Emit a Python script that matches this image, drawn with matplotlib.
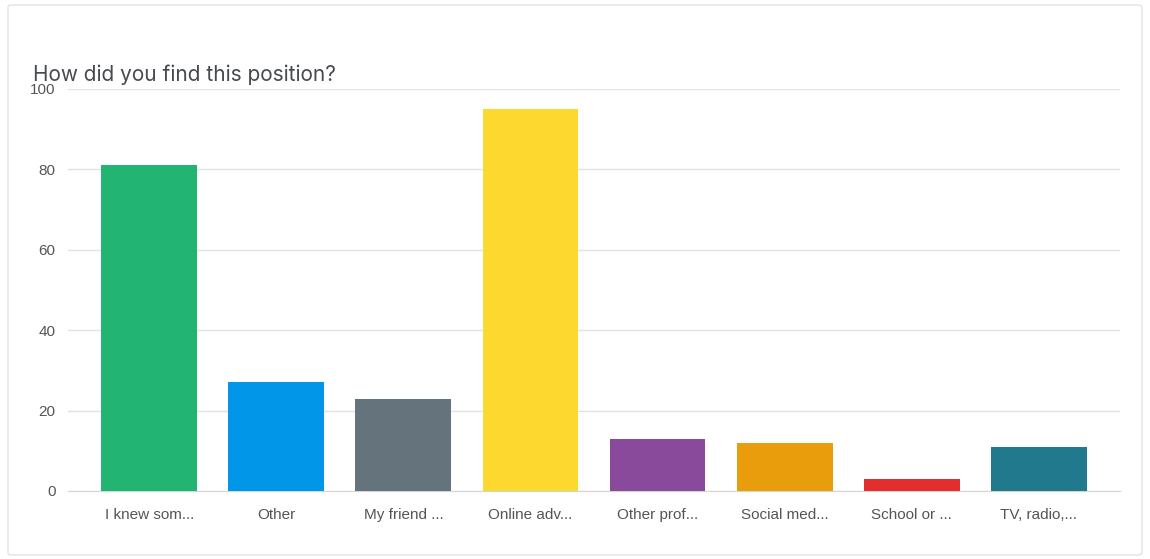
import matplotlib
matplotlib.use("Agg")
import matplotlib.pyplot as plt
from matplotlib.patches import FancyBboxPatch

title = "How did you find this position?"
categories = ["I knew som...", "Other", "My friend ...", "Online adv...",
              "Other prof...", "Social med...", "School or ...", "TV, radio,..."]
counts = [81, 27, 23, 95, 13, 12, 3, 11]
colors = ["#22b473", "#0296e8", "#65737d", "#fdd930",
          "#8a4a9b", "#e99c0c", "#e22f2d", "#20798d"]
yticks = [0, 20, 40, 60, 80, 100]

fig = plt.figure(figsize=(11.5, 5.59), dpi=100)
fig.patch.set_facecolor("white")

# card outline
card = FancyBboxPatch((8 / 1150, 4 / 559), 1134 / 1150, 550 / 559,
                      boxstyle="round,pad=0,rounding_size=0.004",
                      transform=fig.transFigure, facecolor="none",
                      edgecolor="#e3e3e3", linewidth=1.0, zorder=0)
fig.patches.append(card)

fig.text(33 / 1150, 1 - 75 / 559, title, fontsize=15, color="#474a4f",
         family="Inter", va="center", ha="left")

ax = fig.add_axes([68 / 1150, 1 - 491 / 559, (1120 - 68) / 1150, (491 - 89) / 559])
ax.set_zorder(2)
ax.patch.set_alpha(0)
x = list(range(len(categories)))
ax.bar(x, counts, width=0.755, color=colors, zorder=3)
ax.set_xlim(-0.64, len(categories) - 0.36)
ax.set_ylim(0, 100)
ax.set_yticks(yticks)
ax.set_xticks(x)
ax.set_xticklabels(categories)
ax.grid(axis="y", color="#e2e2e2", linewidth=1.0, zorder=0)
ax.set_axisbelow(True)
for s in ["top", "right", "left"]:
    ax.spines[s].set_visible(False)
ax.spines["bottom"].set_color("#d5d5d5")
ax.tick_params(axis="both", length=0, labelsize=11, labelcolor="#555555")
ax.tick_params(axis="y", pad=9)
ax.tick_params(axis="x", pad=12)
for lbl in ax.get_xticklabels() + ax.get_yticklabels():
    lbl.set_family("Liberation Sans")

fig.savefig("out.png", dpi=100, facecolor="white")
